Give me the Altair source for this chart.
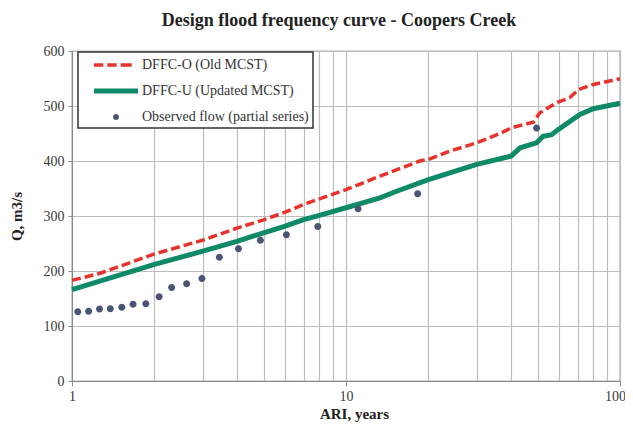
import altair as alt
import pandas as pd

# ---- data ----
series_names = ["DFFC-O (Old MCST)", "DFFC-U (Updated MCST)", "Observed flow (partial series)"]

old_ari = [1, 1.26, 2, 3, 4, 5, 6, 7, 10, 13.3, 18.6, 20, 23.9, 30, 36.5, 40, 44.3, 48.3, 51, 58.7, 65.5, 70.5, 79.9, 100]
old_q = [183, 195.5, 231, 256, 278, 293, 307, 321, 348, 372.5, 400, 403, 418, 433, 450, 460, 466, 470.5, 487.6, 506, 515, 530, 539, 549.5]

upd_ari = [1, 2, 3, 4, 5, 6, 7, 8, 10, 13.3, 15.3, 20, 30, 40, 43.2, 49.6, 52.4, 56.3, 59.4, 71.4, 79.9, 88.5, 100]
upd_q = [166, 212, 236, 254, 269.5, 281.5, 293.5, 301, 315, 333, 345, 366, 394, 408.7, 424, 433, 445, 448, 457, 484.5, 495, 499.6, 505]

obs_ari = [1.05, 1.15, 1.26, 1.38, 1.52, 1.67, 1.86, 2.08, 2.31, 2.62, 2.98, 3.45, 4.05, 4.87, 6.06, 7.89, 11.07, 18.26, 49.6]
obs_q = [126, 127, 131, 131.5, 134, 139.5, 140.5, 153, 170, 177, 186.5, 225, 240.5, 256, 266, 281, 313, 340.5, 460]

x_ticks = [1, 2, 3, 4, 5, 6, 7, 8, 9, 10, 20, 30, 40, 50, 60, 70, 80, 90, 100]
y_ticks = [0, 100, 200, 300, 400, 500, 600]

colors = ["#e8322c", "#0f8a68", "#4a5474"]

# legend glyphs (custom symbol paths)
dash_path = ("M-2.444,-0.183H-1.411V0.183H-2.444Z "
             "M-0.967,-0.183H0.078V0.183H-0.967Z "
             "M0.522,-0.183H1.744V0.183H0.522Z")
solid_path = "M-2.444,-0.28H2.444V0.28H-2.444Z"
dot_path = "M0.333,0A0.333,0.333,0,1,1,-0.333,0A0.333,0.333,0,1,1,0.333,0Z"

FONT = "Liberation Serif"

old_df = pd.DataFrame({"ari": old_ari, "q": old_q})
upd_df = pd.DataFrame({"ari": upd_ari, "q": upd_q})
obs_df = pd.DataFrame({"ari": obs_ari, "q": obs_q, "series": series_names[2]})

major = "datum.value == 1 || datum.value == 10 || datum.value == 100"

x_enc = alt.X(
    "ari:Q",
    scale=alt.Scale(type="log", domain=[1, 100], nice=False),
    axis=alt.Axis(
        title="ARI, years",
        values=x_ticks,
        labelExpr="(" + major + ") ? datum.value + '' : ''",
        labelOverlap=False,
        labelFlush=False,
        labelOffset={"condition": {"test": "datum.value == 100", "value": -5}, "value": 0},
        tickOpacity={"condition": {"test": major, "value": 1}, "value": 0},
        tickSize=5,
        labelPadding=3,
        titlePadding=3,
        titleX=282,
        titleAlign="center",
    ),
)
y_enc = alt.Y(
    "q:Q",
    scale=alt.Scale(domain=[0, 600], nice=False),
    axis=alt.Axis(
        title="Q, m3/s",
        values=y_ticks,
        tickSize=4,
        labelPadding=4,
        titlePadding=19,
    ),
)

leg = alt.Legend(
    title=None,
    orient="none",
    legendX=6,
    legendY=1,
    fillColor="white",
    strokeColor="#333333",
    padding=4,
    symbolSize=324,
    symbolOffset=25,
    labelOffset=17,
    rowPadding=10,
    labelLimit=300,
    symbolStrokeWidth=0,
    labelFont=FONT,
    labelFontSize=14,
    labelColor="#333333",
)

old_line = alt.Chart(old_df).mark_line(
    color=colors[0], strokeWidth=3.5, strokeDash=[9, 4]
).encode(x=x_enc, y=y_enc)

upd_line = alt.Chart(upd_df).mark_line(
    color=colors[1], strokeWidth=5
).encode(x=x_enc, y=y_enc)

obs_pts = alt.Chart(obs_df).mark_point(filled=True, opacity=1, size=441).encode(
    x=x_enc,
    y=y_enc,
    color=alt.Color("series:N", scale=alt.Scale(domain=series_names, range=colors), legend=leg),
    shape=alt.Shape("series:N", scale=alt.Scale(domain=series_names, range=[dash_path, solid_path, dot_path]), legend=leg),
)

chart = alt.layer(old_line, upd_line, obs_pts).properties(
    width=548,
    height=330,
    background="white",
    autosize=alt.AutoSizeParams(type="none"),
    padding={"left": 64, "top": 43, "right": 5, "bottom": 42},
    title=alt.TitleParams(
        "Design flood frequency curve - Coopers Creek",
        font=FONT, fontSize=18, fontWeight="bold", color="#222222",
        anchor="middle", frame="group", offset=14, dx=-7,
    ),
).configure_view(
    stroke="#666666", strokeWidth=1.2
).configure_axis(
    labelFont=FONT, labelFontSize=14, labelColor="#3a3a3a",
    titleFont=FONT, titleFontSize=15, titleFontWeight="bold", titleColor="#222222",
    gridColor="#bdbdbd", gridWidth=1.2, gridOpacity=1,
    domainColor="#8a8a8a", tickColor="#8a8a8a",
).configure_legend(
    strokeWidth=1.5
)

chart.save("out.html", embed_options={"renderer": "svg", "actions": False})
